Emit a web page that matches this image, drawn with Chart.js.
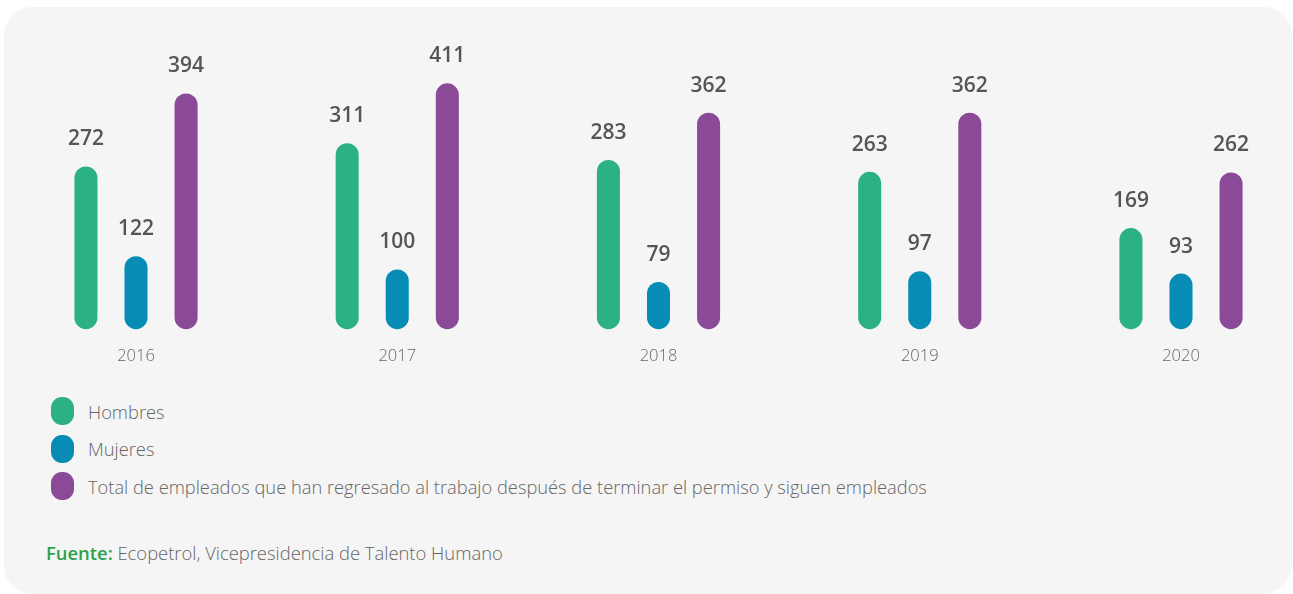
<!DOCTYPE html>
<html lang="es">
<head>
<meta charset="utf-8">
<title>Empleados que regresaron al trabajo</title>
<script src="https://cdn.jsdelivr.net/npm/chart.js@4.4.1/dist/chart.umd.min.js"></script>
<style>
  html, body { margin: 0; padding: 0; background: #fff; }
  body { width: 1293px; height: 594px; position: relative; overflow: hidden; font-family: "Open Sans", sans-serif; }
  #panel { position: absolute; left: 4px; top: 7px; width: 1288px; height: 587px; background: #f5f5f5; border-radius: 28px 28px 30px 28px; }
  #chart { position: absolute; left: 0; top: 0; }
  #legend { position: absolute; left: 51px; top: 397px; }
  .item { display: flex; align-items: center; height: 28px; margin-bottom: 9.5px; }
  .swatch { width: 23px; height: 28px; border-radius: 11px; margin-right: 14px; }
  .item span { font-size: 18.3px; font-weight: 300; color: #666; }
  #source { position: absolute; left: 46px; top: 540px; font-size: 18.4px; font-weight: 300; color: #666; }
  #source b { color: #2ea24a; font-weight: 600; }
</style>
</head>
<body>
<div id="panel"></div>
<canvas id="chart" width="1293" height="390"></canvas>
<div id="legend"></div>
<div id="source"><b>Fuente:</b> Ecopetrol, Vicepresidencia de Talento Humano</div>
<script>
const years = ["2016", "2017", "2018", "2019", "2020"];
const hombres = [272, 311, 283, 263, 169];
const mujeres = [122, 100, 79, 97, 93];
const total = [394, 411, 362, 362, 262];

const seriesLabels = [
  "Hombres",
  "Mujeres",
  "Total de empleados que han regresado al trabajo después de terminar el permiso y siguen empleados",
];
const seriesColors = ["#2bb183", "#078db5", "#8a4a97"];

// value printed above every bar
const valueLabels = {
  id: "valueLabels",
  afterDatasetsDraw(chart) {
    const ctx = chart.ctx;
    ctx.save();
    ctx.font = "600 21px 'Open Sans'";
    ctx.fillStyle = "#555";
    ctx.textAlign = "center";
    ctx.textBaseline = "middle";
    chart.data.datasets.forEach((ds, i) => {
      chart.getDatasetMeta(i).data.forEach((bar, j) => {
        ctx.fillText(ds.data[j], bar.x, bar.y - 27);
      });
    });
    ctx.restore();
  },
};

const datasets = [hombres, mujeres, total].map((values, i) => ({
  label: seriesLabels[i],
  data: values,
  backgroundColor: seriesColors[i],
  borderRadius: 12,
  borderSkipped: false,
  categoryPercentage: 0.575,
  barPercentage: 0.46,
  clip: false,
}));

new Chart(document.querySelector("#chart"), {
  type: "bar",
  data: { labels: years, datasets: datasets },
  options: {
    responsive: false,
    animation: false,
    devicePixelRatio: 1,
    layout: { padding: { left: 136, right: 112, top: 60, bottom: 7 } },
    scales: {
      x: {
        offset: false,
        grid: { display: false, drawTicks: false },
        border: { display: false },
        ticks: {
          padding: 17,
          color: "#666",
          font: { family: "'Open Sans'", size: 16.5, weight: 300 },
        },
      },
      y: { display: false, min: 0, max: 450 },
    },
    plugins: {
      legend: { display: false },
      tooltip: { enabled: false },
    },
  },
  plugins: [valueLabels],
});

const legend = document.querySelector("#legend");
seriesLabels.forEach((name, i) => {
  legend.insertAdjacentHTML(
    "beforeend",
    `<div class="item"><div class="swatch" style="background:${seriesColors[i]}"></div><span>${name}</span></div>`
  );
});
</script>
</body>
</html>
